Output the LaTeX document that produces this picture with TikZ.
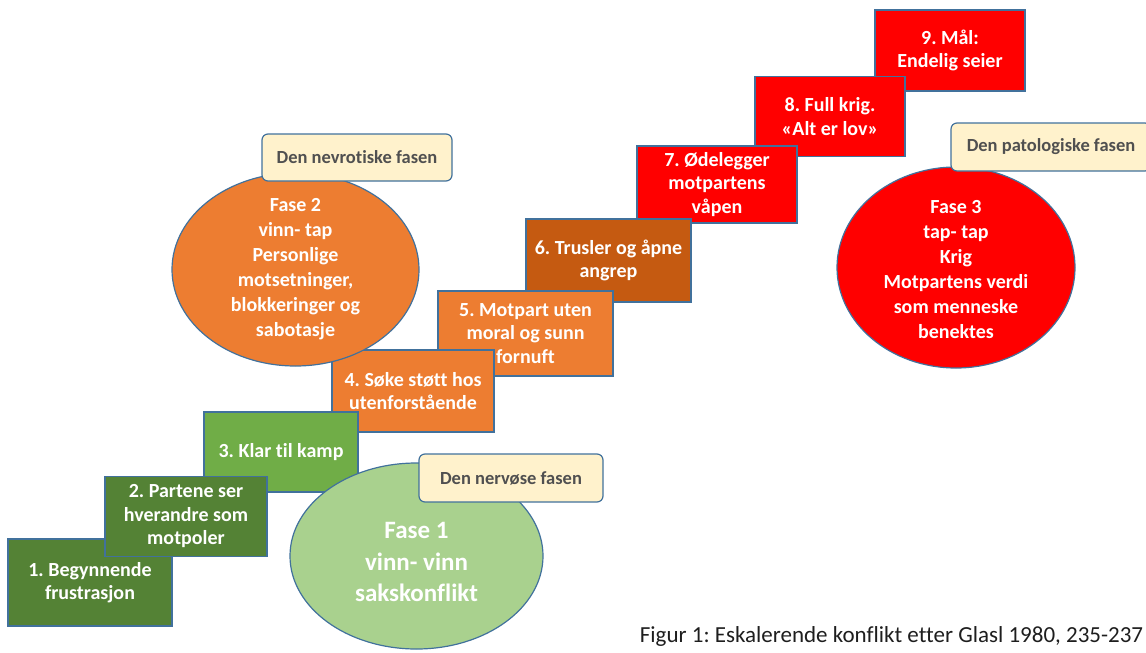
\documentclass[tikz,border=0pt]{standalone}
\usepackage{fontspec}
\setmainfont{Carlito}[Ligatures=NoCommon]
\frenchspacing
\usetikzlibrary{shapes.geometric}
\definecolor{dgreen}{HTML}{548235}
\definecolor{lgreen}{HTML}{70AD47}
\definecolor{pgreen}{HTML}{A9D18E}
\definecolor{orng}{HTML}{ED7D31}
\definecolor{brwn}{HTML}{C55A11}
\definecolor{rd}{HTML}{FF0000}
\definecolor{bordc}{HTML}{41719C}
\definecolor{lblfill}{HTML}{FFF2CC}
\definecolor{lbltext}{HTML}{505050}
\definecolor{captext}{HTML}{1E1E1E}
\tikzset{
  stepbox/.style={rectangle, draw=bordc, line width=1.2pt, inner sep=0pt, text=white, align=center,
    font=\fontsize{20}{23.5}\selectfont\bfseries},
  phase/.style={ellipse, draw=bordc, line width=1.2pt, inner sep=0pt},
  phasetext/.style={text=white, align=center, inner sep=0pt},
  lbl/.style={rectangle, rounded corners=6pt, draw=bordc, line width=1.2pt, fill=lblfill, inner sep=0pt,
    text=lbltext, font=\fontsize{18.5}{21}\selectfont\bfseries, minimum height=48pt},
}
\begin{document}
\begin{tikzpicture}[x=1pt,y=-1pt]
\useasboundingbox (0,0) rectangle (1146,653);
\clip (0,0) rectangle (1146,653);
% steps (back to front)
\node[stepbox, fill=rd, minimum width=150pt, minimum height=81pt] (b9) at (950,50.5) {9. Mål:\\Endelig seier};
\node[stepbox, fill=rd, minimum width=150pt, minimum height=80pt] (b8) at (830,116.5) {8. Full krig.\\«Alt er lov»};
\node[stepbox, fill=rd, minimum width=160pt, minimum height=77pt] (b7) at (717,184.5) {7. Ødelegger\\motpartens\\våpen};
\node[stepbox, fill=brwn, minimum width=165pt, minimum height=83pt] (b6) at (608.5,260.5) {6. Trusler og åpne\\angrep};
\node[stepbox, fill=orng, minimum width=175pt, minimum height=85pt] (b5) at (525.5,333.5) {5. Motpart uten\\moral og sunn\\fornuft};
\node[stepbox, fill=orng, minimum width=162pt, minimum height=82pt] (b4) at (413,391) {4. Søke støtt hos\\utenforstående};
\node[stepbox, fill=lgreen, minimum width=154pt, minimum height=80pt] (b3) at (281,452) {3. Klar til kamp};
\node[stepbox, fill=dgreen, minimum width=164pt, minimum height=87pt] (b1) at (90,582.5) {1. Begynnende\\frustrasjon};
\node[stepbox, fill=dgreen, minimum width=162pt, minimum height=80pt] (b2) at (186,516.5) {2. Partene ser\\hverandre som\\motpoler};
% phases
\node[phase, fill=pgreen, minimum width=253pt, minimum height=186pt] (e1) at (416.5,556) {};
\node[phasetext, font=\fontsize{25}{31.5}\selectfont\bfseries] (t1) at (416.5,562) {Fase 1\\vinn- vinn\\sakskonflikt};
\node[phase, fill=orng, minimum width=247pt, minimum height=193pt] (e2) at (295.5,269.5) {};
\node[phasetext, font=\fontsize{20}{25}\selectfont\bfseries] (t2) at (295.5,269.5) {Fase 2\\vinn- tap\\Personlige\\motsetninger,\\blokkeringer og\\sabotasje};
\node[phase, fill=rd, minimum width=238pt, minimum height=201pt] (e3) at (956,267.5) {};
\node[phasetext, font=\fontsize{20}{25}\selectfont\bfseries] (t3) at (956,270) {Fase 3\\tap- tap\\Krig\\Motpartens verdi\\som menneske\\benektes};
% labels
\node[lbl, minimum width=184pt] (l1) at (511,478) {Den nervøse fasen};
\node[lbl, minimum width=190pt, minimum height=47pt] (l2) at (357,157.5) {Den nevrotiske fasen};
\node[lbl, minimum width=200pt] (l3) at (1051,147) {Den patologiske fasen};
% caption
\node[inner sep=0pt, text=captext, font=\fontsize{23}{27}\selectfont] (cap) at (891.5,636) {Figur 1: Eskalerende konflikt etter Glasl 1980, 235-237};
\end{tikzpicture}
\end{document}
